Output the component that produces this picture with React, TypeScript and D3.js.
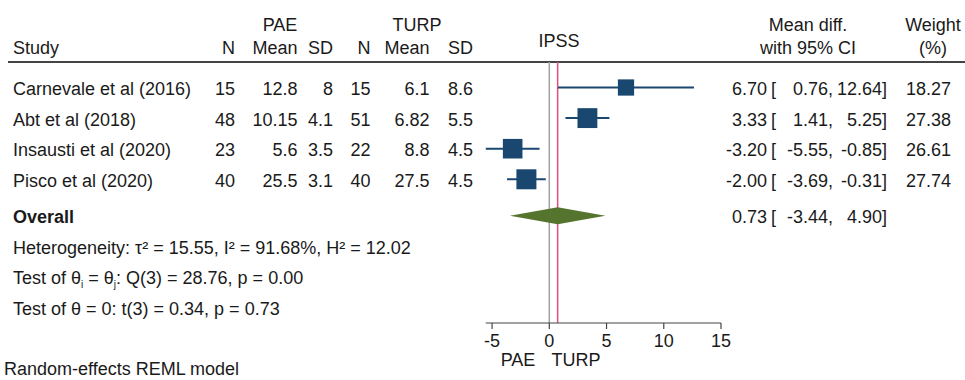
import React from 'react';
import * as d3 from 'd3';

const studies = ['Carnevale et al (2016)', 'Abt et al (2018)', 'Insausti et al (2020)', 'Pisco et al (2020)'];
const paeN = [15, 48, 23, 40];
const paeMean = [12.8, 10.15, 5.6, 25.5];
const paeSD = [8, 4.1, 3.5, 3.1];
const turpN = [15, 51, 22, 40];
const turpMean = [6.1, 6.82, 8.8, 27.5];
const turpSD = [8.6, 5.5, 4.5, 4.5];
const meanDiff = [6.7, 3.33, -3.2, -2.0];
const ciLow = [0.76, 1.41, -5.55, -3.69];
const ciHigh = [12.64, 5.25, -0.85, -0.31];
const weights = [18.27, 27.38, 26.61, 27.74];
const overall = { est: 0.73, lo: -3.44, hi: 4.9 };
const xTicks = [-5, 0, 5, 10, 15];

const W = 965;
const H = 380;
const FONT = '"Liberation Sans", Arial, Helvetica, sans-serif';
const FS = 18;
const NAVY = '#1a476f';
const GREEN = '#55752f';
const RED = '#e0507a';

// plain hyphen for negatives, like the original
const fmt2 = (v: number) => v.toFixed(2);

const App: React.FC = () => {
  const x = d3.scaleLinear().domain([0, 15]).range([549.3, 721]);
  const rowY = (i: number) => 87.5 + i * 30.6;
  const overallY = 215.7;
  const axisY = 323;
  const topY = 62;
  const maxW = d3.max(weights) as number;
  const side = (w: number) => 20 * Math.sqrt(w / maxW);
  const base = 7.5; // text baseline offset from row centre

  const cols = [
    { right: 235, vals: paeN },
    { right: 297.5, vals: paeMean },
    { right: 333, vals: paeSD },
    { right: 370.5, vals: turpN },
    { right: 429.5, vals: turpMean },
    { right: 473, vals: turpSD },
  ];
  const colHeads = ['N', 'Mean', 'SD', 'N', 'Mean', 'SD'];

  const ciText = (est: number, lo: number, hi: number, y: number) => (
    <g>
      <text x={767} y={y} textAnchor="end">{fmt2(est)}</text>
      <text x={771} y={y}>[</text>
      <text x={833} y={y} textAnchor="end">{fmt2(lo)},</text>
      <text x={887} y={y} textAnchor="end">{fmt2(hi)}]</text>
    </g>
  );

  return (
    <svg
      width={W}
      height={H}
      style={{ position: 'absolute', left: 0, top: 0, background: '#fff' }}
      fontFamily={FONT}
      fontSize={FS}
      fill="#1a1a1a"
    >
      <rect width={W} height={H} fill="#fff" />

      {/* header */}
      <text x={280} y={31} textAnchor="middle">PAE</text>
      <text x={417} y={31} textAnchor="middle">TURP</text>
      <text x={13} y={54}>Study</text>
      {colHeads.map((h, i) => (
        <text key={i} x={cols[i].right} y={54} textAnchor="end">{h}</text>
      ))}
      <text x={559} y={47} textAnchor="middle">IPSS</text>
      <text x={808} y={31} textAnchor="middle">Mean diff.</text>
      <text x={808} y={54} textAnchor="middle">with 95% CI</text>
      <text x={933} y={31} textAnchor="middle">Weight</text>
      <text x={933} y={54} textAnchor="middle">(%)</text>
      <line x1={8} x2={W} y1={topY} y2={topY} stroke="#444" strokeWidth={1.8} />

      {/* reference lines */}
      <line x1={x(0)} x2={x(0)} y1={topY} y2={axisY} stroke="#a0a0a0" strokeWidth={1.5} />
      <line x1={x(overall.est)} x2={x(overall.est)} y1={topY} y2={axisY} stroke={RED} strokeWidth={1.5} />

      {/* study rows */}
      {studies.map((s, i) => {
        const y = rowY(i);
        const sz = side(weights[i]);
        return (
          <g key={s}>
            <text x={13} y={y + base}>{s}</text>
            {cols.map((c, j) => (
              <text key={j} x={c.right} y={y + base} textAnchor="end">{String(c.vals[i])}</text>
            ))}
            <line x1={x(ciLow[i])} x2={x(ciHigh[i])} y1={y} y2={y} stroke={NAVY} strokeWidth={2} />
            <rect x={x(meanDiff[i]) - sz / 2} y={y - sz / 2} width={sz} height={sz} fill={NAVY} />
            {ciText(meanDiff[i], ciLow[i], ciHigh[i], y + base)}
            <text x={951} y={y + base} textAnchor="end">{fmt2(weights[i])}</text>
          </g>
        );
      })}

      {/* overall */}
      <text x={13} y={overallY + base} fontWeight="bold">Overall</text>
      <path
        d={`M${x(overall.lo)},${overallY} L${x(overall.est)},${overallY - 8.5} L${x(overall.hi)},${overallY} L${x(overall.est)},${overallY + 8.5} Z`}
        fill={GREEN}
      />
      {ciText(overall.est, overall.lo, overall.hi, overallY + base)}

      <text x={13} y={overallY + 30.6 + base}>
        Heterogeneity: τ² = 15.55, I² = 91.68%, H² = 12.02
      </text>
      <text x={13} y={overallY + 61.2 + base}>
        Test of θ<tspan fontSize={10} dy={4}>i</tspan>
        <tspan dy={-4}> = θ</tspan>
        <tspan fontSize={10} dy={4}>j</tspan>
        <tspan dy={-4}>: Q(3) = 28.76, p = 0.00</tspan>
      </text>
      <text x={13} y={overallY + 91.8 + base}>Test of θ = 0: t(3) = 0.34, p = 0.73</text>

      {/* axis */}
      <line x1={x(ciLow[2])} x2={x(15)} y1={axisY} y2={axisY} stroke="#444" strokeWidth={1.2} />
      {xTicks.map((t) => (
        <g key={t}>
          <line x1={x(t)} x2={x(t)} y1={axisY} y2={axisY + 6} stroke="#444" strokeWidth={1.2} />
          <text x={x(t)} y={axisY + 24} textAnchor="middle">{t}</text>
        </g>
      ))}
      <text x={518} y={366} textAnchor="middle">PAE</text>
      <text x={576} y={366} textAnchor="middle">TURP</text>

      <text x={4} y={375}>Random-effects REML model</text>
    </svg>
  );
};

export default App;
